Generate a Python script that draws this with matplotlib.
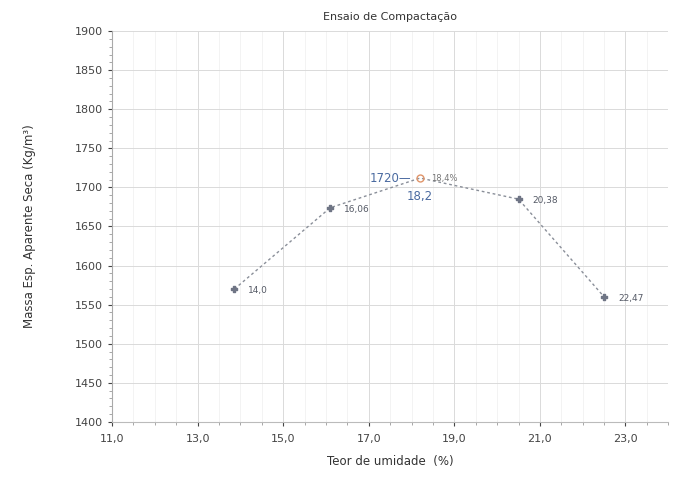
import numpy as np
import matplotlib
matplotlib.use("Agg")
import matplotlib.pyplot as plt
from matplotlib.ticker import MultipleLocator

# compaction test points (moisture %, dry density kg/m3)
umidade = [13.86, 16.1, 20.5, 22.5]
massa = [1570, 1674, 1685, 1560]
rotulos = ["14,0", "16,06", "20,38", "22,47"]

# optimum point
umid_otima = 18.2
massa_max = 1712
rot_massa = "1720"
rot_umid = "18,2"
rot_pico = "18,4%"

# curve through all points (including optimum)
curva_x = [13.86, 16.1, 18.2, 20.5, 22.5]
curva_y = [1570, 1674, 1712, 1685, 1560]

xticks = [11, 13, 15, 17, 19, 21, 23]
xtick_labels = ["11,0", "13,0", "15,0", "17,0", "19,0", "21,0", "23,0"]
yticks = [1400, 1450, 1500, 1550, 1600, 1650, 1700, 1750, 1800, 1850, 1900]

fig = plt.figure(figsize=(6.75, 4.94), dpi=100)
ax = fig.add_axes([0.166, 0.146, 0.824, 0.791])

ax.plot(curva_x, curva_y, color="#8a8f99", lw=1.0, ls=(0, (2, 2)), zorder=2)
ax.scatter(umidade, massa, marker="P", s=14, color="#6f7585", zorder=3)
for x, y, t in zip(umidade, massa, rotulos):
    ax.annotate(t, (x, y), xytext=(10, -3), textcoords="offset points",
                fontsize=6.5, color="#555a66")

ax.plot([umid_otima], [massa_max], marker="o", ms=5, mfc="none",
        mec="#e0956a", mew=1.0, zorder=4)
ax.annotate(rot_massa + "\u2014", (umid_otima, massa_max), xytext=(-6, 0),
            textcoords="offset points", ha="right", va="center",
            fontsize=8.5, color="#4a6aa0")
ax.annotate(rot_pico, (umid_otima, massa_max), xytext=(8, 0),
            textcoords="offset points", ha="left", va="center",
            fontsize=6, color="#777")
ax.annotate(rot_umid, (umid_otima, massa_max), xytext=(0, -13),
            textcoords="offset points", ha="center", va="center",
            fontsize=8.5, color="#4a6aa0")

ax.set_xlim(11, 24)
ax.set_ylim(1400, 1900)
ax.set_xticks(xticks)
ax.set_xticklabels(xtick_labels)
ax.set_yticks(yticks)
ax.xaxis.set_minor_locator(MultipleLocator(0.5))
ax.yaxis.set_minor_locator(MultipleLocator(10))

ax.grid(which="major", color="#dadada", lw=0.7)
ax.grid(which="minor", axis="x", color="#eeeeee", lw=0.5)
ax.set_axisbelow(True)

for s in ["top", "right"]:
    ax.spines[s].set_visible(False)
ax.spines["left"].set_color("#aaaaaa")
ax.spines["bottom"].set_color("#bbbbbb")
ax.tick_params(axis="both", labelsize=8, colors="#444444", length=3)
ax.tick_params(which="minor", length=2, color="#999999")
ax.tick_params(axis="x", pad=6)

ax.set_title("Ensaio de Compactação", fontsize=8, color="#333333", pad=8)
ax.set_xlabel("Teor de umidade  (%)", fontsize=8.5, color="#333333", labelpad=8)
ax.set_ylabel("Massa Esp. Aparente Seca (Kg/m³)", fontsize=8.5, color="#333333",
              labelpad=28)

fig.savefig("out.png", dpi=100, facecolor="white")
